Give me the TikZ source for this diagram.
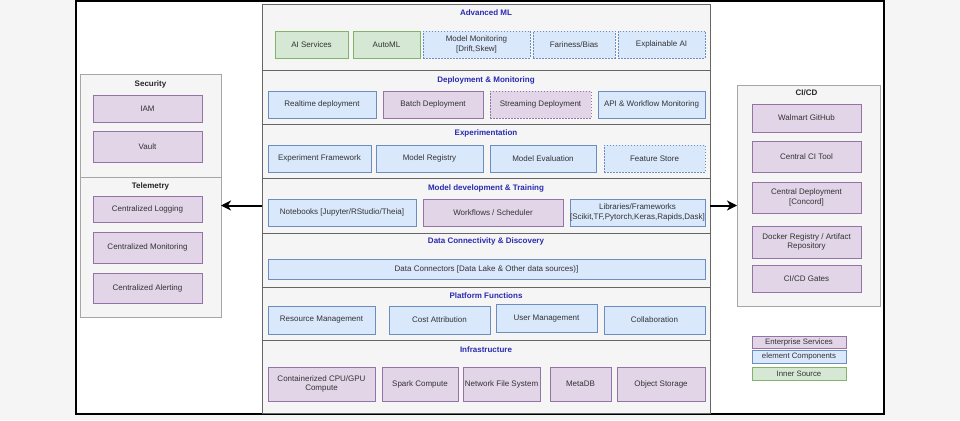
\documentclass[tikz,border=0pt]{standalone}
\usepackage{fontspec}
\setmainfont{Liberation Sans}
\usetikzlibrary{arrows.meta}

\definecolor{bggray}{HTML}{F5F5F5}
\definecolor{entfill}{HTML}{E1D5E7}
\definecolor{entline}{HTML}{9673A6}
\definecolor{compfill}{HTML}{DAE8FC}
\definecolor{compline}{HTML}{6C8EBF}
\definecolor{innerfill}{HTML}{D5E8D4}
\definecolor{innerline}{HTML}{82B366}
\definecolor{headblue}{HTML}{2A2AB0}

\tikzset{
  box/.style={draw, rectangle, inner sep=0.5pt, outer sep=0pt, align=center,
    font=\fontsize{8}{9.5}\selectfont, text=black!80},
  ent/.style={box, fill=entfill, draw=entline},
  comp/.style={box, fill=compfill, draw=compline},
  inner/.style={box, fill=innerfill, draw=innerline},
  later/.style={dashed, dash pattern=on 1.5pt off 1.5pt},
  layer/.style={draw=black!60, fill=bggray, rectangle, minimum width=448, outer sep=0pt, line width=0.8pt},
  panel/.style={draw=black!35, fill=bggray, rectangle, minimum width=141, outer sep=0pt},
  heading/.style={font=\fontsize{8}{9}\selectfont\bfseries, text=headblue},
  sidehead/.style={font=\fontsize{8}{9}\selectfont\bfseries, text=black!85},
  legend/.style={box, font=\fontsize{7.8}{8}\selectfont, minimum width=94, inner sep=0pt}
}

\begin{document}
\begin{tikzpicture}[x=1pt, y=-1pt, semithick]
  \fill[bggray] (0,0) rectangle (960,420);
  \useasboundingbox (0,0) rectangle (960,420);
  \draw[fill=white, line width=1.2pt] (76,1) rectangle (884,414);

  % main stack
  \node[layer, minimum height=66] (s1) at (486,37) {};
  \node[layer, minimum height=54] (s2) at (486,97) {};
  \node[layer, minimum height=54] (s3) at (486,151) {};
  \node[layer, minimum height=55] (s4) at (486,205.5) {};
  \node[layer, minimum height=54] (s5) at (486,260) {};
  \node[layer, minimum height=53] (s6) at (486,313.5) {};
  \node[layer, minimum height=73] (s7) at (486,376.5) {};

  \node[heading] (t1) at (486,13) {Advanced ML};
  \node[heading] (t2) at (486,80) {Deployment \& Monitoring};
  \node[heading] (t3) at (486,133) {Experimentation};
  \node[heading] (t4) at (486,188) {Model development \& Training};
  \node[heading] (t5) at (486,241) {Data Connectivity \& Discovery};
  \node[heading] (t6) at (486,296) {Platform Functions};
  \node[heading] (t7) at (486,350) {Infrastructure};

  % advanced ml
  \node[inner, minimum width=73, minimum height=27] (ais) at (311.5,44.5) {AI Services};
  \node[inner, minimum width=67, minimum height=27] (aml) at (386.5,44.5) {AutoML};
  \node[comp, later, minimum width=107, minimum height=27] (mm) at (476.5,44.5) {Model Monitoring\\{[Drift,Skew]}};
  \node[comp, later, minimum width=82, minimum height=27] (fb) at (574,44.5) {Fariness/Bias};
  \node[comp, later, minimum width=87, minimum height=27] (xai) at (661.5,44.5) {Explainable AI};

  % deployment
  \node[comp, minimum width=108, minimum height=27] (rt) at (322,104.5) {Realtime deployment};
  \node[ent, minimum width=100, minimum height=27] (bd) at (433,104.5) {Batch Deployment};
  \node[ent, later, minimum width=101, minimum height=27] (sd) at (540.5,104.5) {Streaming Deployment};
  \node[comp, minimum width=107, minimum height=27] (api) at (651.5,104.5) {API \& Workflow Monitoring};

  % experimentation
  \node[comp, minimum width=103, minimum height=27] (ef) at (319.5,158.5) {Experiment Framework};
  \node[comp, minimum width=107, minimum height=27] (mr) at (429.5,158.5) {Model Registry};
  \node[comp, minimum width=106, minimum height=27] (me) at (543,158.5) {Model Evaluation};
  \node[comp, later, minimum width=101, minimum height=27] (fs) at (654.5,158.5) {Feature Store};

  % model development
  \node[comp, minimum width=148, minimum height=27] (nb) at (342,212.5) {Notebooks [Jupyter/RStudio/Theia]};
  \node[ent, minimum width=140, minimum height=27] (ws) at (493,212.5) {Workflows / Scheduler};
  \node[comp, minimum width=135, minimum height=27, inner sep=0pt] (lib) at (637.5,212.5) {Libraries/Frameworks\\{[Scikit,TF,Pytorch,Keras,Rapids,Dask]}};

  % data
  \node[comp, minimum width=437, minimum height=20] (dc) at (486.5,269) {Data Connectors [Data Lake \& Other data sources)]};

  % platform
  \node[comp, minimum width=107, minimum height=28] (rm) at (321.5,320) {Resource Management};
  \node[comp, minimum width=101, minimum height=28] (ca) at (439.5,320) {Cost Attribution};
  \node[comp, minimum width=101, minimum height=28] (um) at (546.5,318.5) {User Management};
  \node[comp, minimum width=101, minimum height=28] (co) at (654.5,320) {Collaboration};

  % infrastructure
  \node[ent, minimum width=107, minimum height=34] (cc) at (321.5,384) {Containerized CPU/GPU\\Compute};
  \node[ent, minimum width=76, minimum height=34] (sc) at (420,384) {Spark Compute};
  \node[ent, minimum width=77, minimum height=34] (nfs) at (501.5,384) {Network File System};
  \node[ent, minimum width=61, minimum height=34] (mdb) at (580.5,384) {MetaDB};
  \node[ent, minimum width=88, minimum height=34] (os) at (661,384) {Object Storage};

  % security + telemetry
  \node[panel, minimum height=103] (sec) at (150.5,125.5) {};
  \node[panel, minimum height=140] (tel) at (150.5,247) {};
  \node[sidehead] (th) at (150.5,84) {Security};
  \node[sidehead] (tt) at (150.5,186) {Telemetry};
  \node[ent, minimum width=109, minimum height=27] (iam) at (147.5,108.5) {IAM};
  \node[ent, minimum width=109, minimum height=31] (vault) at (147.5,146.5) {Vault};
  \node[ent, minimum width=109, minimum height=26] (log) at (147.5,209) {Centralized Logging};
  \node[ent, minimum width=109, minimum height=31] (mon) at (147.5,247.5) {Centralized Monitoring};
  \node[ent, minimum width=109, minimum height=30] (alert) at (147.5,288) {Centralized Alerting};

  % ci/cd
  \node[panel, minimum width=143, minimum height=221] (cicd) at (808.5,195.5) {};
  \node[sidehead] (tc) at (806.5,93) {CI/CD};
  \node[ent, minimum width=109, minimum height=28] (gh) at (806.5,118) {Walmart GitHub};
  \node[ent, minimum width=109, minimum height=31] (ci) at (806.5,156.5) {Central CI Tool};
  \node[ent, minimum width=109, minimum height=31] (cd) at (806.5,197.5) {Central Deployment\\{[Concord]}};
  \node[ent, minimum width=109, minimum height=32] (dr) at (806.5,242) {Docker Registry / Artifact\\Repository};
  \node[ent, minimum width=109, minimum height=27] (gates) at (806.5,278.5) {CI/CD Gates};

  % legend
  \node[legend, fill=entfill, draw=entline, minimum height=12] (le) at (799,342) {Enterprise Services};
  \node[legend, fill=compfill, draw=compline, minimum height=13] (lc) at (799,356.5) {element Components};
  \node[legend, fill=innerfill, draw=innerline, minimum height=13] (li) at (799,373.5) {Inner Source};

  \path[-{Stealth[length=10pt,width=10pt,inset=3pt]}, line width=2pt]
    (s4.west) edge (s4.west -| tel.east)
    (s4.east) edge (s4.east -| cicd.west);
\end{tikzpicture}
\end{document}
